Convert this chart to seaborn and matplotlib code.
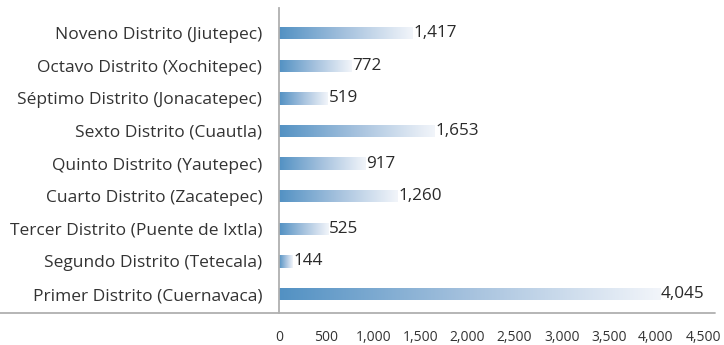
import numpy as np
import pandas as pd
import matplotlib
matplotlib.use("Agg")
import matplotlib.pyplot as plt
from matplotlib.colors import LinearSegmentedColormap
from matplotlib.lines import Line2D
import seaborn as sns

districts = [
    "Noveno Distrito (Jiutepec)",
    "Octavo Distrito (Xochitepec)",
    "Séptimo Distrito (Jonacatepec)",
    "Sexto Distrito (Cuautla)",
    "Quinto Distrito (Yautepec)",
    "Cuarto Distrito (Zacatepec)",
    "Tercer Distrito (Puente de Ixtla)",
    "Segundo Distrito (Tetecala)",
    "Primer Distrito (Cuernavaca)",
]
values = [1417, 772, 519, 1653, 917, 1260, 525, 144, 4045]
x_ticks = [0, 500, 1000, 1500, 2000, 2500, 3000, 3500, 4000, 4500]

df = pd.DataFrame({"distrito": districts, "valor": values})

sns.set_theme(style="white")
plt.rcParams["font.family"] = ["Open Sans", "DejaVu Sans"]

fig = plt.figure(figsize=(7.24, 3.45), dpi=100)
W, H = 724, 345
ax = fig.add_axes([279 / W, 32 / H, (703 - 279) / W, (313 - 8) / H])

sns.barplot(data=df, x="valor", y="distrito", order=districts,
            color="#5794c4", width=0.38, ax=ax, orient="h")

# Horizontal gradient fill for each bar
cmap = LinearSegmentedColormap.from_list("grad", ["#5291c3", "#a6c2de", "#f2f5fa"])
grad = np.linspace(0, 1, 256).reshape(1, -1)
for patch in ax.patches:
    x0, y0 = patch.get_x(), patch.get_y()
    w, h = patch.get_width(), patch.get_height()
    im = ax.imshow(grad, cmap=cmap, aspect="auto",
                   extent=[x0, x0 + w, y0 + h, y0], zorder=2)
    im.set_clip_path(patch)
    patch.set_facecolor("none")
    patch.set_edgecolor("none")

ax.set_xlim(0, 4500)
ax.set_ylim(8.58, -0.77)

# Value labels at the end of each bar
for i, v in enumerate(values):
    ax.text(v + 8, i, f"{v:,}", va="center", ha="left",
            fontsize=12.3, color="#2a2a2a")

ax.set_xlabel("")
ax.set_ylabel("")
ax.set_xticks(x_ticks)
ax.set_xticklabels([f"{t:,}" for t in x_ticks])
ax.tick_params(axis="x", length=0, pad=12, labelsize=10, labelcolor="#333333")
ax.tick_params(axis="y", length=0, pad=12, labelsize=12.5, labelcolor="#333333")

for s in ["top", "right", "bottom"]:
    ax.spines[s].set_visible(False)
ax.spines["left"].set_color("#b0b0b0")
ax.spines["left"].set_linewidth(1.3)

# Baseline running across the figure
fig.add_artist(Line2D([0, 715 / W], [32 / H, 32 / H], transform=fig.transFigure,
                      color="#b0b0b0", linewidth=1.3))

fig.savefig("out.png", dpi=100)
